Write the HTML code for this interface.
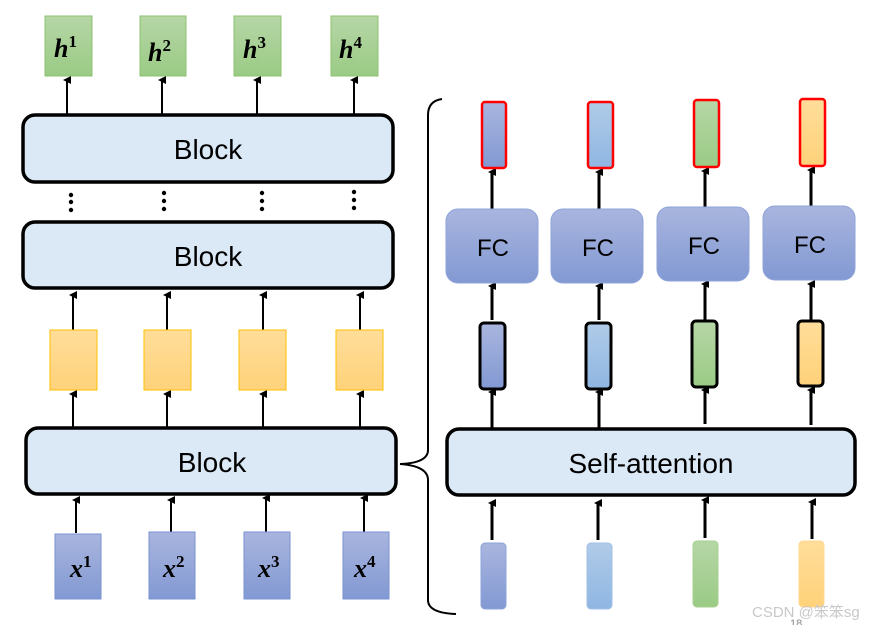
<!DOCTYPE html><html><head><style>body{margin:0;background:#fff}svg{display:block}</style></head><body>
<svg width="870" height="625" viewBox="0 0 870 625" xmlns="http://www.w3.org/2000/svg" font-family="Liberation Sans, sans-serif">
<defs>
<linearGradient id="bl" x1="0" y1="0" x2="0" y2="1"><stop offset="0" stop-color="#a9b5de"/><stop offset="1" stop-color="#8299d3"/></linearGradient>
<linearGradient id="lb" x1="0" y1="0" x2="0" y2="1"><stop offset="0" stop-color="#b0cbe8"/><stop offset="1" stop-color="#8fb6e2"/></linearGradient>
<linearGradient id="gr" x1="0" y1="0" x2="0" y2="1"><stop offset="0" stop-color="#b6d6a6"/><stop offset="1" stop-color="#9acb85"/></linearGradient>
<linearGradient id="or" x1="0" y1="0" x2="0" y2="1"><stop offset="0" stop-color="#ffdd9a"/><stop offset="1" stop-color="#ffd27a"/></linearGradient>
<marker id="a" markerWidth="8" markerHeight="8" refX="4" refY="4" orient="auto" markerUnits="userSpaceOnUse"><path d="M0,8 L4,0 L8,8 Z" fill="#000"/></marker>
</defs>
<g stroke="#000" stroke-width="2" marker-end="url(#a)">
<!-- left column arrows -->
<line x1="67" y1="114" x2="67" y2="80"/><line x1="162" y1="114" x2="162" y2="80"/><line x1="257" y1="114" x2="257" y2="80"/><line x1="354" y1="114" x2="354" y2="80"/>
<line x1="73" y1="330" x2="73" y2="295"/><line x1="167" y1="330" x2="167" y2="295"/><line x1="263" y1="330" x2="263" y2="295"/><line x1="360" y1="330" x2="360" y2="295"/>
<line x1="73" y1="428" x2="73" y2="394"/><line x1="167" y1="428" x2="167" y2="394"/><line x1="263" y1="428" x2="263" y2="394"/><line x1="360" y1="428" x2="360" y2="394"/>
<line x1="76" y1="533" x2="76" y2="500"/><line x1="171" y1="533" x2="171" y2="500"/><line x1="266" y1="533" x2="266" y2="498"/><line x1="364" y1="533" x2="364" y2="498"/>
</g>
<g stroke="#000" stroke-width="3" marker-end="url(#a)">
<line x1="492" y1="209" x2="492" y2="172"/><line x1="599" y1="209" x2="599" y2="172"/><line x1="705" y1="207" x2="705" y2="171"/><line x1="811" y1="206" x2="811" y2="170"/>
<line x1="492" y1="320" x2="492" y2="286"/><line x1="599" y1="320" x2="599" y2="286"/><line x1="705" y1="320" x2="705" y2="284"/><line x1="811" y1="320" x2="811" y2="284"/>
<line x1="492" y1="428" x2="492" y2="392"/><line x1="599" y1="428" x2="599" y2="392"/><line x1="705" y1="424" x2="705" y2="390"/><line x1="811" y1="425" x2="811" y2="390"/>
<line x1="492" y1="540" x2="492" y2="503"/><line x1="598" y1="540" x2="598" y2="503"/><line x1="705" y1="538" x2="705" y2="500"/><line x1="812" y1="539" x2="812" y2="502"/>
</g>
<!-- h boxes -->
<g fill="url(#gr)" stroke="#8cc26f">
<rect x="45" y="16" width="47" height="60"/><rect x="140" y="16" width="46" height="60"/><rect x="234" y="16" width="47" height="60"/><rect x="331" y="16" width="47" height="60"/>
</g>
<g font-family="Liberation Serif, serif" font-style="italic" font-weight="bold" font-size="26">
<text x="54" y="57">h<tspan font-size="17" dy="-10" font-style="normal">1</tspan></text>
<text x="148" y="61">h<tspan font-size="17" dy="-10" font-style="normal">2</tspan></text>
<text x="243" y="58">h<tspan font-size="17" dy="-10" font-style="normal">3</tspan></text>
<text x="339" y="58">h<tspan font-size="17" dy="-10" font-style="normal">4</tspan></text>
</g>
<!-- blocks -->
<g fill="#dbe8f6" stroke="#000" stroke-width="3.5">
<rect x="23" y="115" width="370" height="67" rx="12"/>
<rect x="23" y="222" width="370" height="66" rx="12"/>
<rect x="26" y="428" width="370" height="66" rx="12"/>
<rect x="447" y="429" width="408" height="66" rx="12"/>
</g>
<g font-size="28" text-anchor="middle">
<text x="208" y="159">Block</text><text x="208" y="266">Block</text><text x="212" y="472">Block</text>
<text x="651" y="473">Self-attention</text>
</g>
<!-- dots -->
<g fill="#000">
<circle cx="71" cy="195" r="2.2"/><circle cx="71" cy="202" r="2.2"/><circle cx="71" cy="210" r="2.2"/>
<circle cx="164" cy="193" r="2.2"/><circle cx="164" cy="201" r="2.2"/><circle cx="164" cy="209" r="2.2"/>
<circle cx="262" cy="193" r="2.2"/><circle cx="262" cy="201" r="2.2"/><circle cx="262" cy="209" r="2.2"/>
<circle cx="354" cy="192" r="2.2"/><circle cx="354" cy="200" r="2.2"/><circle cx="354" cy="208" r="2.2"/>
</g>
<!-- orange -->
<g fill="url(#or)" stroke="#ffc000">
<rect x="50" y="330" width="47" height="60"/><rect x="144" y="330" width="47" height="60"/><rect x="239" y="330" width="47" height="60"/><rect x="336" y="330" width="47" height="60"/>
</g>
<!-- x boxes -->
<g fill="url(#bl)" stroke="#7a92d2">
<rect x="55" y="534" width="46" height="65"/><rect x="149" y="532" width="46" height="67"/><rect x="244" y="532" width="46" height="67"/><rect x="343" y="532" width="46" height="67"/>
</g>
<g font-family="Liberation Serif, serif" font-style="italic" font-weight="bold" font-size="26">
<text x="70" y="577">x<tspan font-size="17" dy="-10" font-style="normal">1</tspan></text>
<text x="163" y="577">x<tspan font-size="17" dy="-10" font-style="normal">2</tspan></text>
<text x="258" y="577">x<tspan font-size="17" dy="-10" font-style="normal">3</tspan></text>
<text x="354" y="577">x<tspan font-size="17" dy="-10" font-style="normal">4</tspan></text>
</g>
<!-- brace -->
<path d="M442,99 Q428,101 428,115 L428,450 Q428,463 400,464 Q428,466 428,480 L428,600 Q428,613 456,614" fill="none" stroke="#000" stroke-width="2"/>
<!-- right column -->
<g stroke="#ff0000" stroke-width="2.5">
<rect x="482" y="102" width="24" height="66" rx="3" fill="url(#bl)"/>
<rect x="588" y="102" width="25" height="66" rx="3" fill="url(#lb)"/>
<rect x="694" y="100" width="25" height="67" rx="3" fill="url(#gr)"/>
<rect x="800" y="99" width="25" height="67" rx="3" fill="url(#or)"/>
</g>
<g fill="url(#bl)" stroke="#8fa3d9">
<rect x="446" y="209" width="92" height="74" rx="12"/><rect x="551" y="209" width="92" height="74" rx="12"/><rect x="657" y="207" width="92" height="74" rx="12"/><rect x="763" y="206" width="92" height="74" rx="12"/>
</g>
<g font-size="24" text-anchor="middle">
<text x="493" y="256">FC</text><text x="598" y="256">FC</text><text x="704" y="254">FC</text><text x="810" y="253">FC</text>
</g>
<g stroke="#000" stroke-width="3">
<rect x="480" y="323" width="25" height="66" rx="4" fill="url(#bl)"/>
<rect x="586" y="323" width="25" height="66" rx="4" fill="url(#lb)"/>
<rect x="692" y="321" width="25" height="66" rx="4" fill="url(#gr)"/>
<rect x="798" y="321" width="25" height="65" rx="4" fill="url(#or)"/>
</g>
<rect x="481" y="543" width="25" height="66" rx="4" fill="url(#bl)" stroke="#8ea3d8"/>
<rect x="587" y="543" width="25" height="66" rx="4" fill="url(#lb)" stroke="#a0c0e5"/>
<rect x="693" y="541" width="25" height="66" rx="4" fill="url(#gr)" stroke="#a8d090"/>
<rect x="799" y="541" width="25" height="66" rx="4" fill="url(#or)" stroke="#ffd890"/>
<text x="752" y="617" font-size="15" fill="#c8c8c8" font-family="Liberation Sans, 'Noto Sans CJK SC', sans-serif">CSDN @笨笨sg</text>
<text x="790" y="627" font-size="11" fill="#888">18</text>
</svg>
</body></html>
